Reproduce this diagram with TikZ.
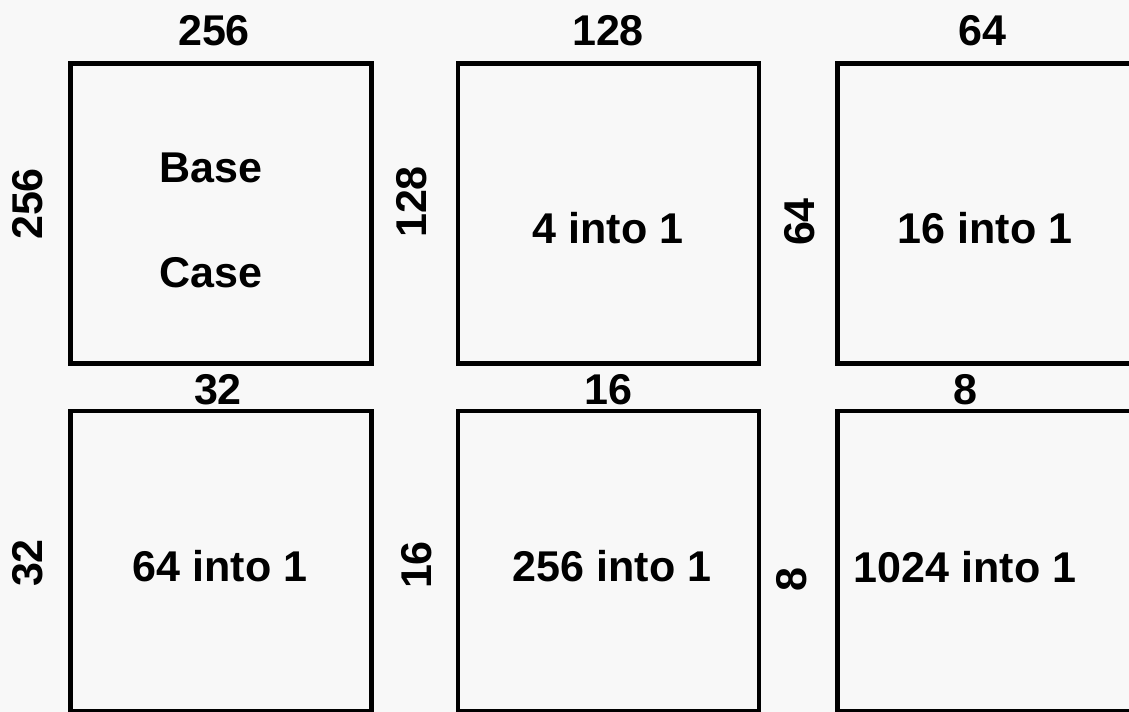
\documentclass[tikz,border=0pt]{standalone}
\usepackage{fontspec}
\setmainfont{Liberation Sans}
\usetikzlibrary{positioning}
\definecolor{papergrey}{HTML}{F8F8F8}

\begin{document}
\begin{tikzpicture}[x=0.02cm,y=-0.02cm,font=\fontsize{24.5}{29}\selectfont\bfseries,
  cell/.style={draw,line width=2.7pt,minimum width=6.02cm,minimum height=6.0cm,inner sep=0pt},
  side/.style={rotate=90},
]
\fill[papergrey] (0,0) rectangle (1129,712);
\useasboundingbox (0,0) rectangle (1129,712);
\clip (0,0) rectangle (1129,712);

% top row
\node[cell] (base) at (221,213.5) {};
\node[cell] (four) at (608.5,213.5) {};
\node[cell] (sixteen) at (988,213.5) {};
% bottom row
\node[cell] (sixtyfour) at (221,561) {};
\node[cell] (twofiftysix) at (608.5,561) {};
\node[cell] (tenfour) at (988,561) {};

% sizes along the top
\node (baseW) at (214,31) {256};
\node (fourW) at (608,31) {128};
\node (sixteenW) at (982,31) {64};
\node (sixtyfourW) at (218,390) {32};
\node (twofiftysixW) at (608,390) {16};
\node (tenfourW) at (965,390) {8};

% sizes along the side
\node[side] (baseH) at (28,204) {256};
\node[side] (fourH) at (412,202) {128};
\node[side] (sixteenH) at (800,222) {64};
\node[side] (sixtyfourH) at (28,563) {32};
\node[side] (twofiftysixH) at (417,565) {16};
\node[side] (tenfourH) at (792,580) {8};

% contents
\node (baseA) at (211,168) {Base};
\node (baseB) at (211,273) {Case};
\node (fourT) at (608,228) {4 into 1};
\node (sixteenT) at (985,228) {16 into 1};
\node (sixtyfourT) at (220,566) {64 into 1};
\node (twofiftysixT) at (612,566) {256 into 1};
\node (tenfourT) at (965,567) {1024 into 1};
\end{tikzpicture}
\end{document}
